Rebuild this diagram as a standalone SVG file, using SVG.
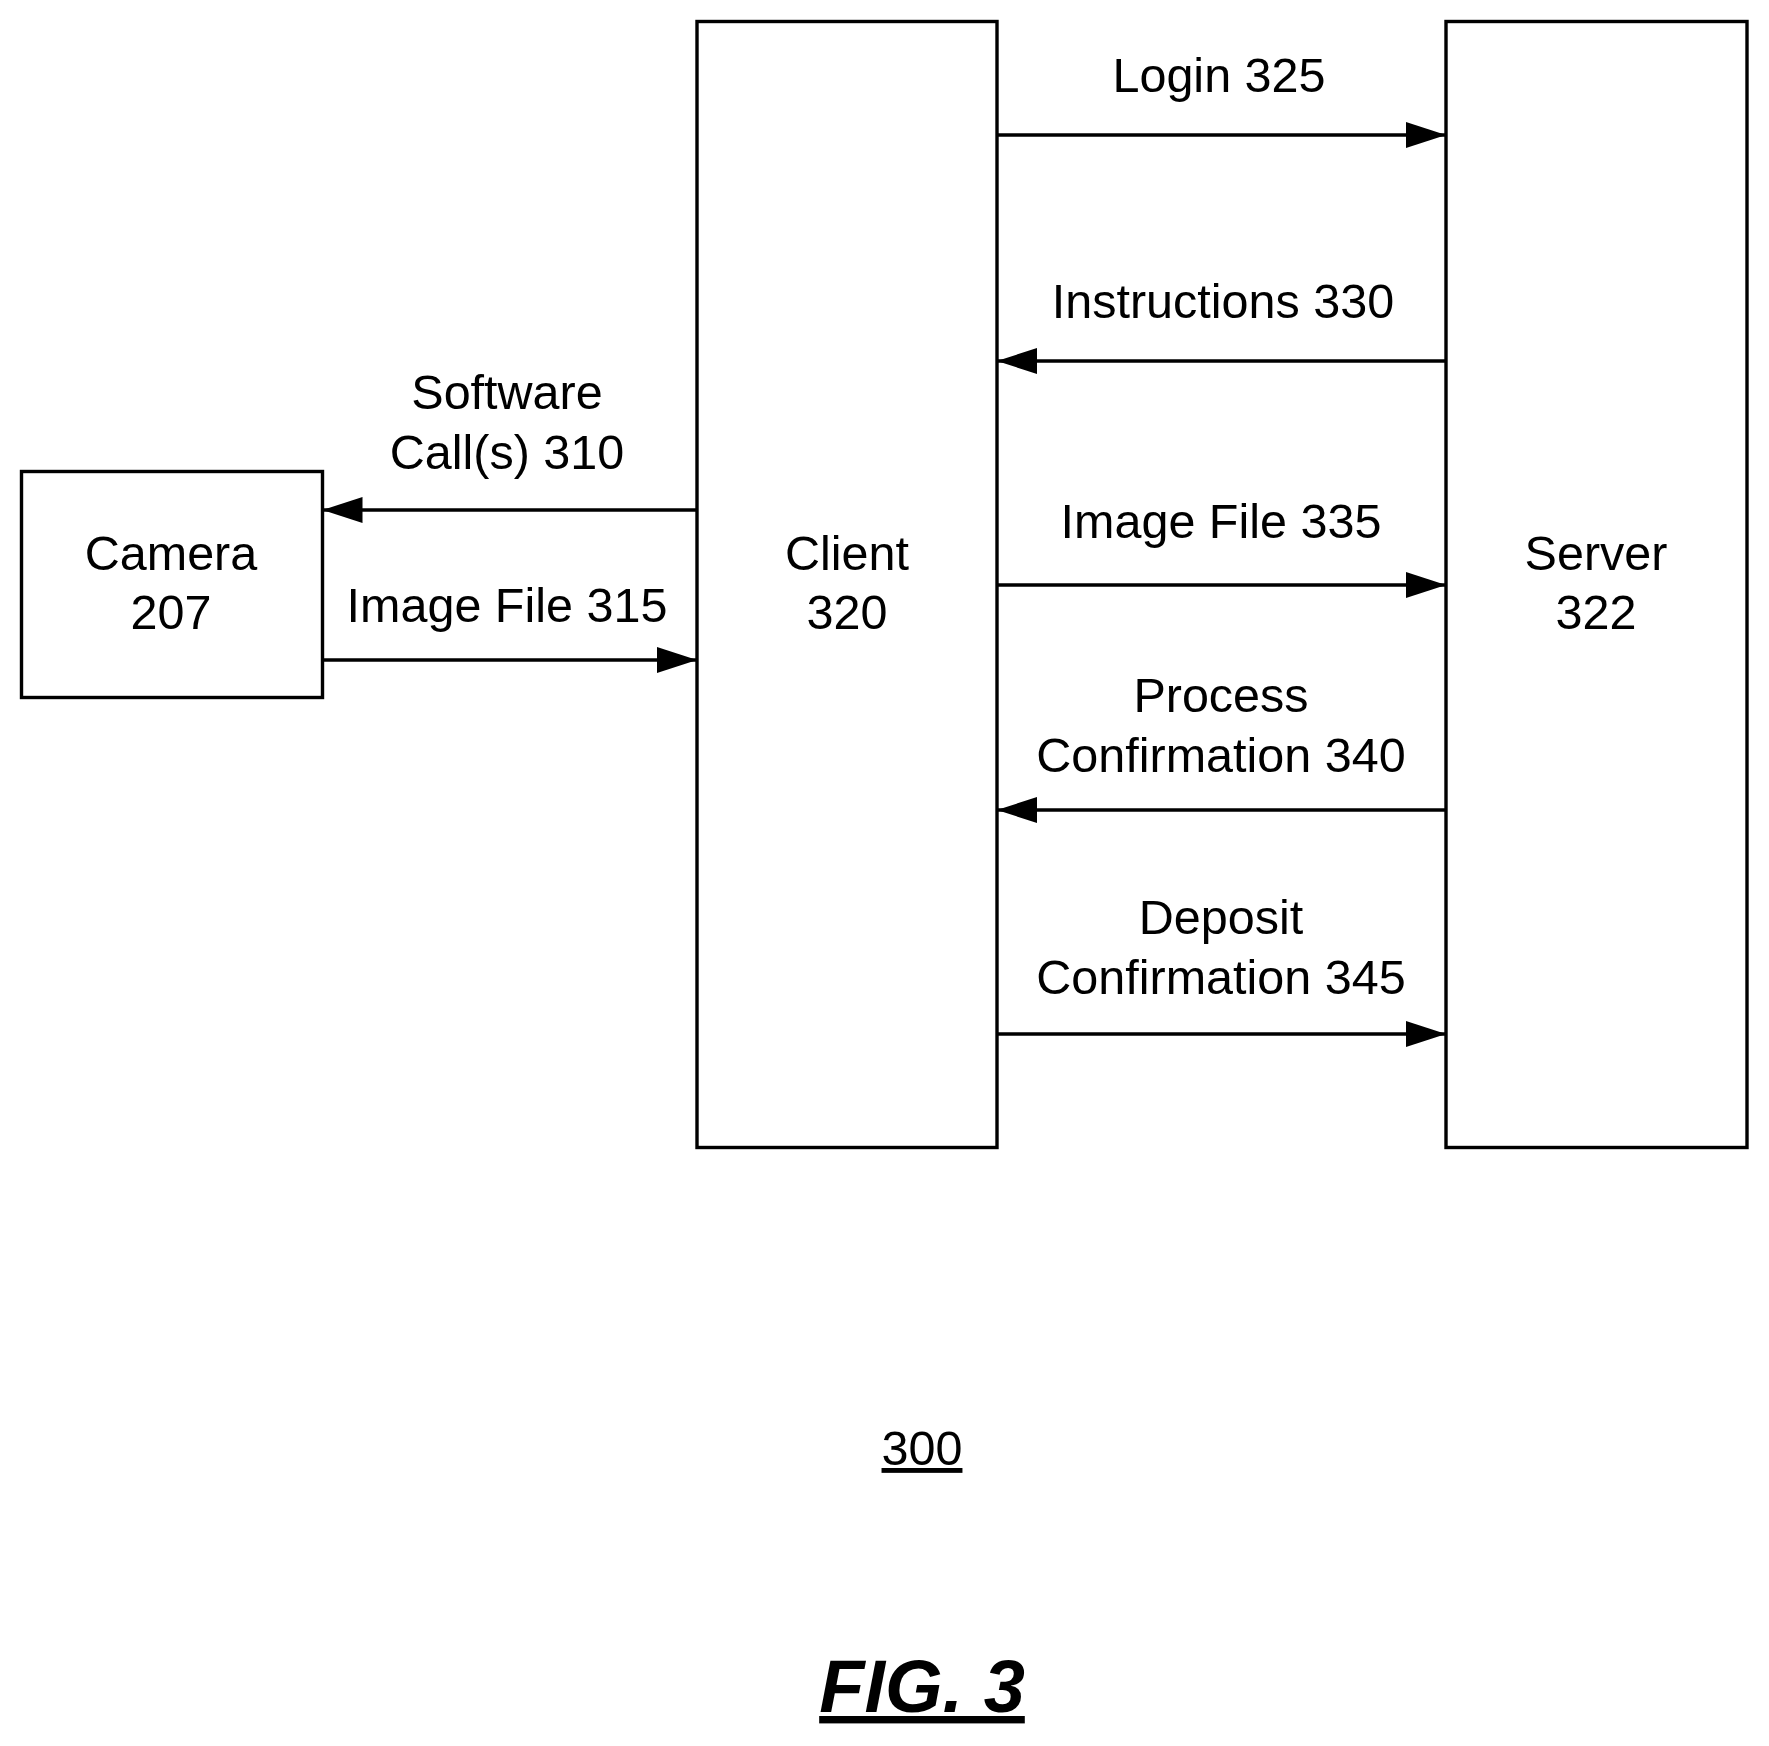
<svg xmlns="http://www.w3.org/2000/svg" width="1769" height="1746" viewBox="0 0 1769 1746">
<style>
text{font-family:"Liberation Sans",Arial,sans-serif;font-size:48.5px;fill:#000;text-anchor:middle}
.box{fill:#fff;stroke:#000;stroke-width:3.4}
.ln{stroke:#000;stroke-width:3.4;fill:none}
</style>
<defs>
<marker id="ah" markerUnits="userSpaceOnUse" markerWidth="42" markerHeight="26" refX="40" refY="13" orient="auto">
<path d="M0,0 L40,13 L0,26 Z" fill="#000"/>
</marker>
</defs>
<rect width="1769" height="1746" fill="#fff"/>
<g id="camera"><rect class="box" x="21.5" y="471.5" width="301" height="226"/>
<text x="171" y="570">Camera</text><text x="171" y="629">207</text></g>
<g id="client"><rect class="box" x="697" y="21.5" width="300" height="1126"/>
<text x="847" y="570">Client</text><text x="847" y="629">320</text></g>
<g id="server"><rect class="box" x="1446" y="21.5" width="301" height="1126"/>
<text x="1596" y="570">Server</text><text x="1596" y="629">322</text></g>
<g id="connectors">
<line class="ln" x1="997" y1="135" x2="1446" y2="135" marker-end="url(#ah)"/>
<line class="ln" x1="1446" y1="361" x2="997" y2="361" marker-end="url(#ah)"/>
<line class="ln" x1="697" y1="510" x2="322.5" y2="510" marker-end="url(#ah)"/>
<line class="ln" x1="322.5" y1="660" x2="697" y2="660" marker-end="url(#ah)"/>
<line class="ln" x1="997" y1="585" x2="1446" y2="585" marker-end="url(#ah)"/>
<line class="ln" x1="1446" y1="810" x2="997" y2="810" marker-end="url(#ah)"/>
<line class="ln" x1="997" y1="1034" x2="1446" y2="1034" marker-end="url(#ah)"/>
<text x="1219" y="92">Login 325</text>
<text x="1223" y="318">Instructions 330</text>
<text x="507" y="409">Software</text>
<text x="507" y="469">Call(s) 310</text>
<text x="507" y="622">Image File 315</text>
<text x="1221" y="538">Image File 335</text>
<text x="1221" y="712">Process</text>
<text x="1221" y="772">Confirmation 340</text>
<text x="1221" y="934">Deposit</text>
<text x="1221" y="994">Confirmation 345</text>
</g>
<text x="922" y="1465" text-decoration="underline">300</text>
<text x="922" y="1712" style="font-size:74px;font-weight:bold;font-style:italic" text-decoration="underline">FIG. 3</text>
</svg>
